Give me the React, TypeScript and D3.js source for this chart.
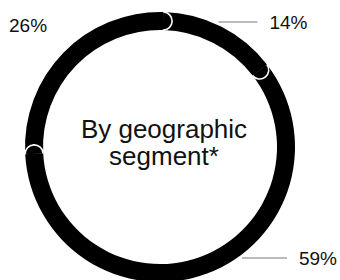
import React from 'react';
import * as d3 from 'd3';

// geographic split, clockwise from the top
const segmentLabels = ['14%', '59%', '26%'];
const segmentValues = [14, 59, 26];
// label placement per segment
const labelY = [22, 258, 25];
const leaderLen = [39, 45, 0];

const width = 340;
const height = 280;
const cx = 160;
const cy = 147;
const outerR = 135;
const innerR = 117;
const startAngle = 0.025;

export default function App() {
  const pie = d3.pie<number>()
    .sort(null)
    .startAngle(startAngle)
    .endAngle(startAngle + Math.PI * 2);
  const arcs = pie(segmentValues);

  const arc = d3.arc<d3.PieArcDatum<number>>()
    .innerRadius(innerR)
    .outerRadius(outerR);

  const midR = (outerR + innerR) / 2;
  const capR = (outerR - innerR) / 2;

  // rounded end cap laid over the start of the next segment
  const capPath = (a: number) => {
    const sx = Math.sin(a), sy = -Math.cos(a);
    const px = midR * sx, py = midR * sy;
    const ox = px + capR * sx, oy = py + capR * sy;
    const ix = px - capR * sx, iy = py - capR * sy;
    return `M${ox},${oy}A${capR},${capR} 0 0 1 ${ix},${iy}`;
  };

  const ringX = (y: number) => {
    const dy = y - cy;
    return cx + Math.sqrt(Math.max(0, (outerR + 3) ** 2 - dy * dy));
  };

  return (
    <svg
      width={width}
      height={height}
      style={{ position: 'absolute', left: 0, top: 0, background: '#fff' }}
      fontFamily="'Liberation Sans', Arial, sans-serif"
    >
      <g transform={`translate(${cx},${cy})`}>
        {arcs.map((d, i) => (
          <path key={`b${i}`} d={arc(d) || ''} fill="#000" />
        ))}
        {arcs.map((d, i) => (
          <path
            key={`c${i}`}
            d={capPath(d.endAngle)}
            fill="#000"
            stroke="#fff"
            strokeWidth={1.6}
          />
        ))}
      </g>

      {arcs.map((d, i) => {
        const y = labelY[i];
        if (!leaderLen[i]) {
          return (
            <text key={`l${i}`} x={9} y={y + 6.5} fontSize={19} fill="#111">
              {segmentLabels[i]}
            </text>
          );
        }
        const x0 = ringX(y);
        const x1 = x0 + leaderLen[i];
        return (
          <g key={`l${i}`}>
            <line x1={x0} x2={x1} y1={y} y2={y} stroke="#777" strokeWidth={1} />
            <text x={x1 + 12} y={y + 6.5} fontSize={19} fill="#111">
              {segmentLabels[i]}
            </text>
          </g>
        );
      })}

      <text x={cx + 4} y={138} fontSize={26} textAnchor="middle" fill="#111">
        By geographic
      </text>
      <text x={cx + 4} y={165} fontSize={26} textAnchor="middle" fill="#111">
        segment*
      </text>
    </svg>
  );
}
